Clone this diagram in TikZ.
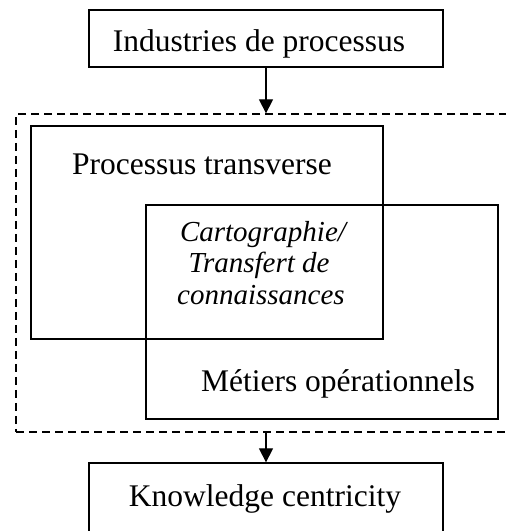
\documentclass[tikz,border=0pt]{standalone}
\usepackage{fontspec}
\setmainfont{Liberation Serif}
\usetikzlibrary{arrows.meta}
\begin{document}
\begin{tikzpicture}[x=1pt,y=1pt,
  box/.style={draw,line width=1.3pt,rectangle,inner sep=0pt},
  dashbox/.style={draw,line width=1.3pt,rectangle,inner sep=0pt,dash pattern=on 8pt off 5pt},
  lbl/.style={anchor=base,inner sep=0pt,font=\fontsize{31.5}{36}\selectfont},
  ilbl/.style={anchor=base,inner sep=0pt,font=\fontsize{29}{34}\selectfont\itshape},
  arr/.style={line width=1.3pt,-{Triangle[width=14pt,length=14pt]}}]
\useasboundingbox (0,0) rectangle (506,531);
% boxes
\node[box,minimum width=354pt,minimum height=57pt] (top) at (266,492.5) {};
\node[dashbox,minimum width=496pt,minimum height=318pt] (grp) at (264,258) {};
\node[box,minimum width=352pt,minimum height=213pt] (pt) at (207,298.5) {};
\node[box,minimum width=352pt,minimum height=214pt] (mo) at (322,219) {};
\node[box,minimum width=354pt,minimum height=82pt] (kc) at (266,27) {};
% texts
\node[lbl] (ttop) at (259,479) {Industries de processus};
\node[lbl] (tpt) at (202,356) {Processus transverse};
\node[ilbl] (c1) at (263,289) {Cartographie/};
\node[ilbl] (c2) at (259,258) {Transfert de};
\node[ilbl] (c3) at (261,226) {connaissances};
\node[lbl] (tmo) at (338,139) {Métiers opérationnels};
\node[lbl] (tkc) at (265,24) {Knowledge centricity};
% arrows
\draw[arr] (top.south) -- (top.south |- grp.north);
\draw[arr] (kc.north |- grp.south) -- (kc.north);
\end{tikzpicture}
\end{document}
